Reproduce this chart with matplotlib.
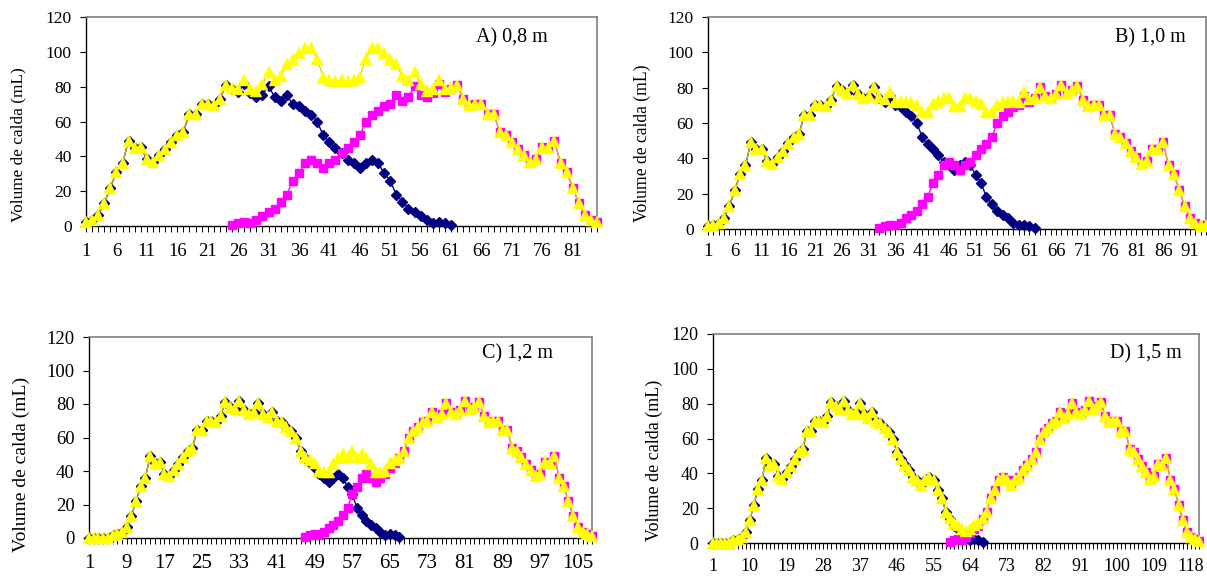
import numpy as np
import matplotlib
matplotlib.use("Agg")
import matplotlib.pyplot as plt

# Distribution profile of a single nozzle (mL per collector)
perfil = [2.5, 3.5, 6.5, 13, 22, 31, 36, 49, 45, 45.5,
          38.5, 37, 40.5, 44, 48.5, 52, 54, 64.5, 64.5, 70,
          70, 69.5, 73, 81, 78.5, 77, 81.5, 76.5, 74, 75.5,
          80.5, 74, 72, 75, 70, 69, 66, 64, 60, 52,
          48, 45, 42, 38, 36, 33.5, 36, 38, 36, 30.5,
          26, 18, 14, 10, 8, 6, 3.5, 2, 2.5, 1.5, 0.6]

titulos = ["A) 0,8 m", "B) 1,0 m", "C) 1,2 m", "D) 1,5 m"]
n_coletores = [85, 94, 108, 120]          # number of collectors (x categories)
inicio_bico2 = [25, 33, 47, 59]           # first collector reached by the 2nd nozzle
valores_inicio = [[], [1.5], [0, 0, 0, 0, 0, 1.5], [0, 0, 0, 0, 0, 1.5]]
valores_fim = [[], [1.5], [1], [1]]
passo_rotulo = [5, 5, 8, 9]
yticks = [0, 20, 40, 60, 80, 100, 120]

W, H = 1207, 579
# axes boxes in pixels: left, right, top, bottom
caixas = [(86, 597, 17, 226), (708, 1206, 17, 229),
          (89, 592, 337, 538), (713, 1199, 334, 543)]
pos_titulo = [(512, 38), (1150, 38), (517, 354), (1146, 354)]
pos_ylabel = [(18, 145), (642, 143), (21, 464), (654, 460)]
fs_ylabel = [12.4, 12.7, 14.0, 13.0]
fs_xtick = [13.5, 13.5, 15.0, 13.0]
fs_ytick = [12.5, 12.5, 13.5, 13.0]
pad_x = [8, 6, 7, 6.5]

plt.rcParams['font.family'] = ['Liberation Serif', 'DejaVu Serif']

fig = plt.figure(figsize=(W / 100, H / 100), dpi=100)

for i in range(4):
    l, r, t, b = caixas[i]
    ax = fig.add_axes([l / W, 1 - b / H, (r - l) / W, (b - t) / H])
    n = n_coletores[i]
    b1 = np.array(valores_inicio[i] + perfil, dtype=float)
    b2 = np.array(perfil[::-1] + valores_fim[i], dtype=float)
    x1 = np.arange(1, len(b1) + 1)
    x2 = np.arange(inicio_bico2[i], inicio_bico2[i] + len(b2))
    total = np.zeros(n)
    total[x1 - 1] += b1
    total[x2 - 1] += b2
    xt = np.arange(1, n + 1)

    ax.plot(x1, b1, color='#000080', lw=1.0, marker='D', ms=5.0,
            mec='#000080', mfc='#000080', clip_on=False, zorder=3)
    ax.plot(x2, b2, color='#FF00FF', lw=1.0, marker='s', ms=6.0,
            mec='#FF00FF', mfc='#FF00FF', clip_on=False, zorder=4)
    ax.plot(xt, total, color='#D8C800', lw=0.8, marker='^', ms=8.5,
            mec='#FFFF00', mfc='#FFFF00', mew=0.3, clip_on=False, zorder=5)

    ax.set_xlim(1, n)
    ax.set_ylim(0, 120)
    ax.set_yticks(yticks)
    ax.set_yticklabels([str(v) for v in yticks], fontsize=fs_ytick[i])
    ax.set_xticks(xt)
    ax.set_xticklabels([str(k) if (k - 1) % passo_rotulo[i] == 0 else ''
                        for k in xt], fontsize=fs_xtick[i])
    ax.tick_params(axis='x', direction='out', length=4.3, width=0.7,
                   pad=pad_x[i], colors='black')
    ax.tick_params(axis='y', direction='out', length=4.3, width=0.8, pad=6)
    for s in ['top', 'right']:
        ax.spines[s].set_color('#808080')
        ax.spines[s].set_linewidth(1.2)
    for s in ['left', 'bottom']:
        ax.spines[s].set_color('black')
        ax.spines[s].set_linewidth(1.0)
    ax.set_facecolor('white')

    tx, ty = pos_titulo[i]
    fig.text(tx / W, 1 - ty / H, titulos[i], fontsize=14.5,
             ha='center', va='center')
    yx, yy = pos_ylabel[i]
    fig.text(yx / W, 1 - yy / H, 'Volume de calda (mL)', fontsize=fs_ylabel[i],
             rotation=90, ha='center', va='center')

fig.savefig('out.png', dpi=100, facecolor='white')
